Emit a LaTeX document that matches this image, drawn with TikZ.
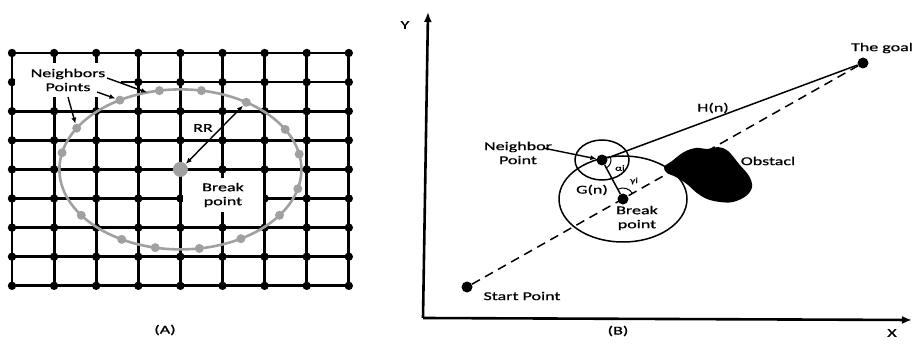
\documentclass[tikz,border=0pt]{standalone}
\usepackage{fontspec}
\setmainfont{Carlito}[FakeStretch=1.5, FakeBold=0.8]
\usepackage{tikz}
\usetikzlibrary{calc,positioning,arrows.meta}
\definecolor{PtGray}{HTML}{A0A0A0}
\tikzset{
  gridline/.style={line width=2.8pt},
  graydot/.style={circle, fill=PtGray, inner sep=0pt, minimum size=9pt},
  bigdot/.style={circle, fill=black, inner sep=0pt, minimum size=11pt},
  lbl/.style={font=\fontsize{12}{14}\selectfont, align=center, inner sep=1pt},
  tiny/.style={font=\fontsize{8}{9}\selectfont, inner sep=0pt},
  ptr/.style={line width=1.4pt, -{Latex[length=6pt,width=5pt]}},
  axis/.style={line width=2.6pt, -{Latex[length=10pt,width=8pt]}},
  thinline/.style={line width=1.5pt}
}

\begin{document}
\begin{tikzpicture}[x=1pt,y=1pt]
  \useasboundingbox (0,0) rectangle (913,343);

  % (A) grid with the search circle
  \foreach \i in {0,...,8} {
    \draw[gridline] ({12+42.1*\i},57.2) -- ({12+42.1*\i},290);
    \draw[gridline] (12,{290-29.1*\i}) -- (348.8,{290-29.1*\i});
  }
  \foreach \i in {0,...,8}
    \foreach \j in {0,...,8}
      \fill ({12+42.1*\i},{290-29.1*\j}) circle[radius=4.2pt];

  \node[
    lbl,
    fill=white,
    minimum width=106pt,
    minimum height=34pt
  ] (nbrtxt) at (68,263) {Neighbors\\Points};
  \node[
    lbl,
    fill=white,
    minimum width=80pt,
    minimum height=34pt
  ] (brktxt) at (223,148) {Break\\point};

  \coordinate (ctrpt) at (180.4,173.6);
  \draw[PtGray, line width=2.6pt] (ctrpt) ellipse[x radius=121pt, y radius=80pt];
  \foreach \a [count=\k] in {100,80,57,30,11,-14,-35,-60,-81,-102,-119,-145,168,149,120}
    \node[graydot] (nb\k) at ([shift={(\a:121pt and 80pt)}]ctrpt) {};
  \node[graydot, minimum size=15pt] (ctr) at (ctrpt) {};
  \coordinate (nbtop) at ([shift={(106:121pt and 80pt)}]ctrpt);

  \node[lbl, fill=white] (rr) at (203,215) {RR};
  \draw[ptr, {Latex[length=6pt,width=5pt]}-{Latex[length=6pt,width=5pt]}] (ctr) -- (nb3);

  \coordinate (a1) at (107,265);
  \coordinate (a2) at (97,251);
  \coordinate (a3) at (68,246);
  \draw[ptr] (a1) -- (nbtop);
  \draw[ptr] (a2) -- (nb15);
  \draw[ptr] (a3) -- (nb14);

  \node[lbl] (capA) at (165,13) {(A)};

  % (B) path towards the goal
  \coordinate (org) at (423,25);
  \coordinate (ytip) at (428,331);
  \coordinate (xtip) at (912,23);
  \draw[axis] (org) -- (ytip);
  \draw[axis] (org) -- (xtip);
  \node[lbl] (ylbl) at (405,318) {Y};
  \node[lbl] (xlbl) at (892,10) {X};
  \node[lbl] (capB) at (618,12) {(B)};

  \fill plot[smooth cycle, tension=0.6] coordinates {
    (664,176) (672,182) (684,191) (696,195) (708,194) (718,196) (728,192)
    (739,179) (749,167) (752,156) (746,147) (733,141) (720,141) (707,144)
    (697,150) (688,158) (681,163) (674,167) (667,170)
  };

  \node[bigdot] (start) at (467,56) {};
  \node[bigdot] (goal) at (863,280) {};
  \node[bigdot] (brk) at (623,144) {};
  \node[bigdot] (nbr) at (602,183) {};

  \draw[thinline, dash pattern=on 9pt off 6pt] (start) -- (goal);
  \draw[thinline] (brk) ellipse[x radius=64pt, y radius=43pt];
  \draw[thinline] (nbr) ellipse[x radius=27pt, y radius=20pt];
  \draw[thinline] (nbr) -- (goal);
  \draw[thinline] (nbr) -- (brk);
  \draw[line width=1pt] ([shift={(-62:9pt)}]nbr.center) arc[start angle=-62, end angle=20, radius=9pt];
  \draw[line width=1pt] ([shift={(30:11pt)}]brk.center) arc[start angle=30, end angle=118, radius=11pt];

  \node[lbl] (nbrlbl) at (518,190) {Neighbor\\Point};
  \coordinate (a4) at (543,195);
  \draw[ptr] (a4) -- (nbr);

  \node[lbl] (startlbl) at (522,47) {Start Point};
  \node[lbl] (goallbl) at (882,295) {The goal};
  \node[lbl] (hn) at (713,235) {H(n)};
  \node[lbl] (gn) at (592,153) {G(n)};
  \node[lbl] (obst) at (768,182) {Obstacl};
  \node[lbl] (brklbl) at (637,125) {Break\\point};
  \node[tiny] (alpha) at (620,175) {αi};
  \node[tiny] (gamma) at (634,162) {γi};
\end{tikzpicture}
\end{document}
